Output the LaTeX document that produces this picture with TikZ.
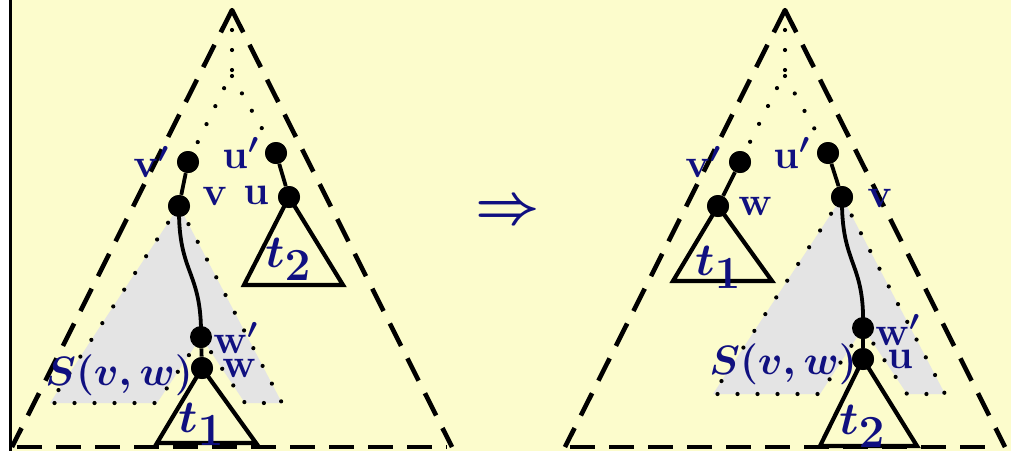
\RequirePackage{fix-cm}
\documentclass[tikz,border=0pt]{standalone}
\usepackage{amsmath}
\definecolor{bgyellow}{RGB}{252,252,204}
\definecolor{lblue}{RGB}{16,16,128}
\definecolor{sgray}{RGB}{228,228,228}
\tikzset{
  dashline/.style={line width=2.3pt, dash pattern=on 12.5pt off 7pt},
  dotline/.style={line width=2.1pt, line cap=round, dash pattern=on 0pt off 10pt},
  trishape/.style={line width=2.1pt, line join=miter},
  edgeline/.style={line width=1.9pt},
  vtx/.style={circle, fill=black, inner sep=0pt, minimum size=11pt},
  lbl/.style={text=lblue, font=\fontsize{20.5}{24}\selectfont\boldmath, inner sep=0pt, anchor=base west},
  tlbl/.style={text=lblue, font=\fontsize{23}{27}\selectfont\boldmath, inner sep=0pt, anchor=base west},
}
\begin{document}
\begin{tikzpicture}[x=0.5pt,y=-0.5pt]
\useasboundingbox (0,0) rectangle (1011,451);
\fill[white] (0,0) rectangle (1011,451);
\fill[bgyellow] (10,0) rectangle (1011,451);
\draw[line width=1.5pt] (10.5,0) -- (10.5,451);

% ================= LEFT =================
\coordinate (LA) at (232,10);
\coordinate (LBL) at (12,447);
\coordinate (LBR) at (452,447);
\coordinate (LB1) at (17,447);
\coordinate (LB2) at (447,447);
\coordinate (Lsplit) at (232,72);
\coordinate (Lsplitb) at (232,76);
\node[vtx] (Lvp) at (188,162) {};
\node[vtx] (Lv)  at (179,206) {};
\node[vtx] (Lup) at (276,153) {};
\node[vtx] (Lu)  at (289,197) {};
\node[vtx] (Lwp) at (201,337) {};
\node[vtx] (Lw)  at (202,368) {};

% shaded S(v,w)
\fill[sgray] (Lv.center) -- (50,403) -- (157,403) -- (Lwp.center) -- (245,403) -- (282,403) -- cycle;
\draw[dotline] (Lv.center) -- (50,403) -- (157,403) -- (Lwp.center) -- (245,403) -- (282,403) -- cycle;

% outer dashed triangle
\draw[dashline] (LA) -- (LBL);
\draw[dashline] (LA) -- (LBR);
\draw[dashline] (LB1) -- (LB2);

% dotted paths from root
\draw[dotline] (LA) -- (Lsplit) -- (Lvp);
\draw[dotline] (Lsplitb) -- (Lup);

% subtrees
\draw[trishape] (Lu.center) -- (244,285) -- (343,285) -- cycle;
\draw[trishape] (Lw.center) -- (157,443) -- (256,443) -- cycle;

% edges
\draw[edgeline] (Lvp) -- (Lv);
\draw[edgeline] (Lup) -- (Lu);
\draw[edgeline] (Lv.center) .. controls (178,275) and (202,270) .. (Lwp.center);
\draw[edgeline] (Lwp) -- (Lw);

\node[vtx] at (Lvp) {};
\node[vtx] at (Lv) {};
\node[vtx] at (Lup) {};
\node[vtx] at (Lu) {};
\node[vtx] at (Lwp) {};
\node[vtx] at (Lw) {};

% labels
\node[lbl] (lvp) at (133,177) {$\mathbf{v}'$};
\node[lbl] (lup) at (222,168) {$\mathbf{u}'$};
\node[lbl] (lv)  at (202,205) {$\mathbf{v}$};
\node[lbl] (lu)  at (243,204) {$\mathbf{u}$};
\node[lbl] (lwp) at (213,353) {$\mathbf{w}'$};
\node[lbl] (lw)  at (222,377) {$\mathbf{w}$};
\node[lbl] (lS)  at (45,385) {$S(v,w)$};
\node[tlbl] (lt2) at (265,267) {$t_{\textstyle 2}$};
\node[tlbl] (lt1) at (178,432) {$t_{\textstyle 1}$};

% arrow
\node[text=lblue, font=\fontsize{28}{32}\selectfont\boldmath, inner sep=0pt] (arr) at (508,213) {$\Rightarrow$};

% ================= RIGHT =================
\coordinate (RA) at (785,10);
\coordinate (RBL) at (565,447);
\coordinate (RBR) at (1005,447);
\coordinate (RB1) at (570,447);
\coordinate (RB2) at (998,447);
\coordinate (Rsplit) at (785,72);
\coordinate (Rsplitb) at (785,76);
\node[vtx] (Rvp) at (740,162) {};
\node[vtx] (Rw)  at (718,206) {};
\node[vtx] (Rup) at (828,153) {};
\node[vtx] (Rv)  at (842,197) {};
\node[vtx] (Rwp) at (863,328) {};
\node[vtx] (Ru)  at (863,359) {};

\fill[sgray] (Rv.center) -- (713,394) -- (820,394) -- (Rwp.center) -- (907,394) -- (945,394) -- cycle;
\draw[dotline] (Rv.center) -- (713,394) -- (820,394) -- (Rwp.center) -- (907,394) -- (945,394) -- cycle;

\draw[dashline] (RA) -- (RBL);
\draw[dashline] (RA) -- (RBR);
\draw[dashline] (RB1) -- (RB2);

\draw[dotline] (RA) -- (Rsplit) -- (Rvp);
\draw[dotline] (Rsplitb) -- (Rup);

\draw[trishape] (Rw.center) -- (673,281) -- (772,281) -- cycle;
\draw[trishape] (Ru.center) -- (820,446) -- (917,446) -- cycle;

\draw[edgeline] (Rvp) -- (Rw);
\draw[edgeline] (Rup) -- (Rv);
\draw[edgeline] (Rv.center) .. controls (841,266) and (865,261) .. (Rwp.center);
\draw[edgeline] (Rwp) -- (Ru);

\node[vtx] at (Rvp) {};
\node[vtx] at (Rw) {};
\node[vtx] at (Rup) {};
\node[vtx] at (Rv) {};
\node[vtx] at (Rwp) {};
\node[vtx] at (Ru) {};

\node[lbl] (rvp) at (685,177) {$\mathbf{v}'$};
\node[lbl] (rup) at (773,168) {$\mathbf{u}'$};
\node[lbl] (rw)  at (738,215) {$\mathbf{w}$};
\node[lbl] (rv)  at (867,207) {$\mathbf{v}$};
\node[lbl] (rwp) at (875,345) {$\mathbf{w}'$};
\node[lbl] (ru)  at (887,368) {$\mathbf{u}$};
\node[lbl] (rS)  at (709,374) {$S(v,w)$};
\node[tlbl] (rt1) at (695,275) {$t_{\textstyle 1}$};
\node[tlbl] (rt2) at (839,434) {$t_{\textstyle 2}$};
\end{tikzpicture}
\end{document}
